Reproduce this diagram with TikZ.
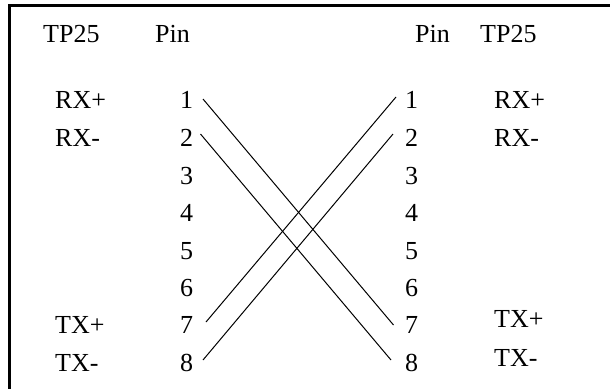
\documentclass[tikz,border=0pt]{standalone}
\usepackage{fontspec}
\setmainfont{Liberation Serif}
\begin{document}
\begin{tikzpicture}[x=1pt,y=-1pt,
  lab/.style={anchor=base west,inner sep=0pt,font=\fontsize{26}{30}\selectfont},
  pin/.style={anchor=base,inner sep=0pt,font=\fontsize{26}{30}\selectfont},
  wire/.style={line width=1pt,black},
  frame/.style={line width=2.6pt,black}]
\useasboundingbox (0,0) rectangle (610,389);
\fill[white] (0,0) rectangle (610,389);
\coordinate (corner) at (9.5,5.5);
\coordinate (frameR) at (610,5.5);
\coordinate (frameB) at (9.5,389);
\draw[frame,line join=miter] (frameR) -- (corner) -- (frameB);
% headers
\node[lab] (h1) at (43,42) {TP25};
\node[lab] (h2) at (155,42) {Pin};
\node[lab] (h3) at (415,42) {Pin};
\node[lab] (h4) at (480,42) {TP25};
% left signal labels
\node[lab] (lrxp) at (55,108) {RX+};
\node[lab] (lrxm) at (55,146) {RX-};
\node[lab] (ltxp) at (55,333) {TX+};
\node[lab] (ltxm) at (55,371) {TX-};
% right signal labels
\node[lab] (rrxp) at (494,108) {RX+};
\node[lab] (rrxm) at (494,146) {RX-};
\node[lab] (rtxp) at (494,327) {TX+};
\node[lab] (rtxm) at (494,366) {TX-};
% pins
\foreach \n/\y in {1/108,2/146,3/184,4/221,5/259,6/296,7/333,8/371}{
  \node[pin] (l\n) at (186.5,\y) {\n};
  \node[pin] (r\n) at (411.5,\y) {\n};
}
% wire ends
\coordinate (a1) at (203,99);
\coordinate (a2) at (200.5,134);
\coordinate (a7) at (206,322);
\coordinate (a8) at (203,360);
\coordinate (b1) at (396,97);
\coordinate (b2) at (393,134);
\coordinate (b7) at (393.5,325);
\coordinate (b8) at (391,360);
\draw[wire] (a1) -- (b7);
\draw[wire] (a2) -- (b8);
\draw[wire] (a7) -- (b1);
\draw[wire] (a8) -- (b2);
\end{tikzpicture}
\end{document}
